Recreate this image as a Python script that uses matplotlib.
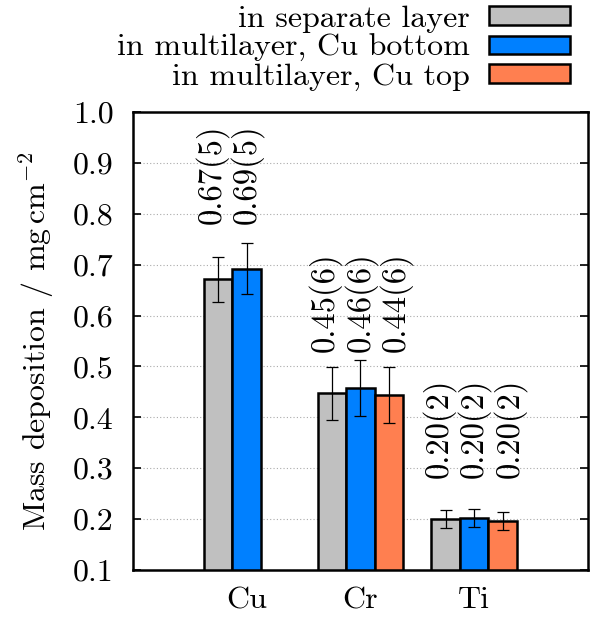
import matplotlib
matplotlib.use("Agg")
import matplotlib.pyplot as plt
import numpy as np

plt.rcParams['font.family'] = ['cmr10', 'DejaVu Serif']
plt.rcParams['mathtext.fontset'] = 'cm'
plt.rcParams['axes.unicode_minus'] = False
plt.rcParams['axes.formatter.use_mathtext'] = True

# data
elements = ['Cu', 'Cr', 'Ti']
series = ['in separate layer', 'in multilayer, Cu bottom', 'in multilayer, Cu top']
colors = ['#c0c0c0', '#0080ff', '#ff7f50']
separate = [0.671, 0.447, 0.200]
separate_err = [0.045, 0.052, 0.018]
cu_bottom = [0.692, 0.457, 0.202]
cu_bottom_err = [0.050, 0.055, 0.017]
cu_top = [np.nan, 0.443, 0.196]
cu_top_err = [np.nan, 0.055, 0.018]
labels_sep = ['0.67(5)', '0.45(6)', '0.20(2)']
labels_bot = ['0.69(5)', '0.46(6)', '0.20(2)']
labels_top = ['', '0.44(6)', '0.20(2)']
label_y = [0.78, 0.528, 0.28]

values = [separate, cu_bottom, cu_top]
errors = [separate_err, cu_bottom_err, cu_top_err]
texts = [labels_sep, labels_bot, labels_top]

fs = 23

fig = plt.figure(figsize=(5.95, 6.18), dpi=100)
ax = fig.add_axes([0.2235, 0.0777, 0.7645, 0.7411])

x = np.arange(1, len(elements) + 1)
w = 0.25
handles = []
for i in range(3):
    h = ax.bar(x + (i - 1) * w, values[i], w, bottom=0, color=colors[i],
               edgecolor='black', linewidth=1.8, label=series[i], zorder=2)
    handles.append(h)
    ax.errorbar(x + (i - 1) * w, values[i], yerr=errors[i], fmt='none',
                ecolor='black', elinewidth=0.9, capsize=4, capthick=0.9, zorder=3)
    for j in range(len(elements)):
        if texts[i][j]:
            ax.text(x[j] + (i - 1) * 0.31, label_y[j], texts[i][j], rotation=90,
                    ha='center', va='bottom', fontsize=23.5)

ax.set_xlim(0, 4)
ax.set_ylim(0.1, 1.0)
ax.set_yticks(np.arange(0.1, 1.01, 0.1))
ax.set_yticklabels(['%.1f' % v for v in np.arange(0.1, 1.01, 0.1)])
ax.set_xticks(x)
ax.set_xticklabels(elements)
ax.tick_params(axis='x', length=0, labelsize=fs, pad=12)
ax.tick_params(axis='y', direction='in', length=6, width=1.2, right=True,
               labelsize=fs, pad=14)
ax.yaxis.grid(True, linestyle=(0, (1, 2)), color='#aaaaaa', linewidth=0.8)
ax.set_axisbelow(True)
for s in ax.spines.values():
    s.set_linewidth(1.8)
ax.set_ylabel(r'Mass deposition / $\mathrm{mg\,cm^{-2}}$', fontsize=fs, labelpad=12)

fig.legend(handles=handles, labels=series, loc='upper right',
           bbox_to_anchor=(0.98, 1.012), frameon=False, markerfirst=False,
           fontsize=fs, handlelength=2.56, handleheight=0.5, labelspacing=0.04,
           handletextpad=0.6, borderaxespad=0)

fig.savefig('out.png', dpi=100)
